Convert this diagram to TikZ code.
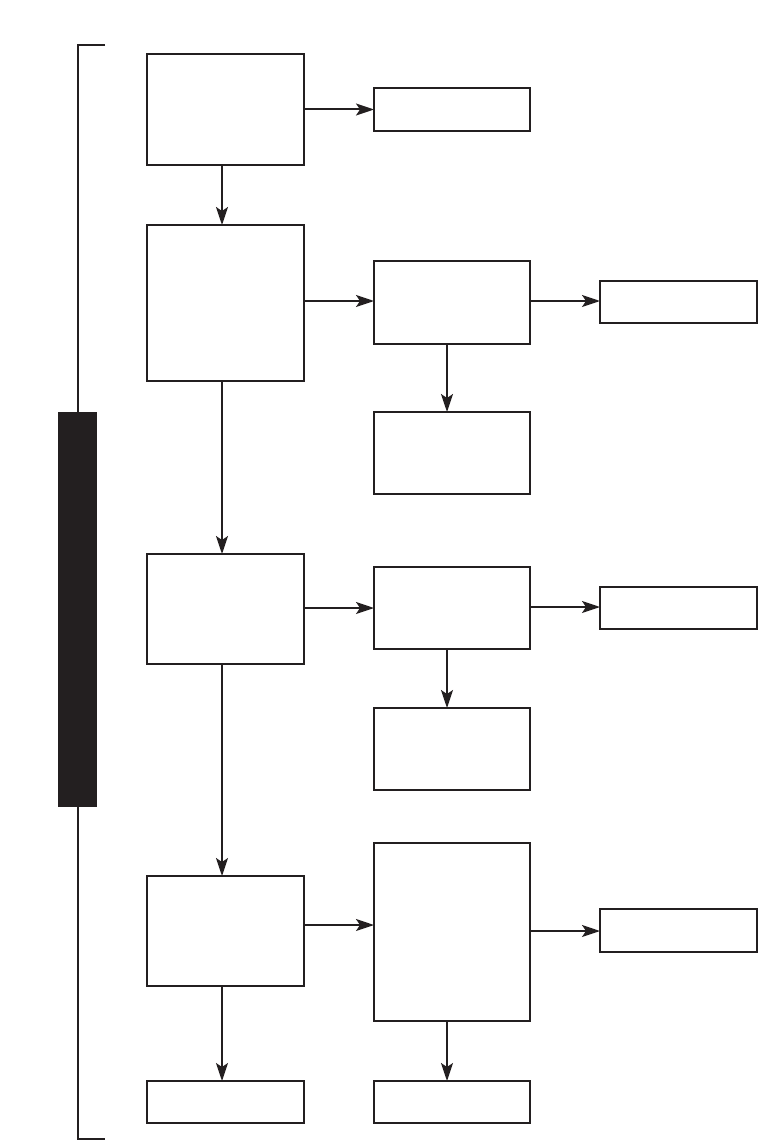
\documentclass[tikz,border=0pt]{standalone}
\usetikzlibrary{arrows.meta}
\definecolor{ink}{HTML}{231F20}
\begin{document}
\begin{tikzpicture}[x=1pt,y=-1pt,
  box/.style={draw=ink,line width=2pt,anchor=north west,inner sep=0pt,outer sep=0pt},
  arr/.style={draw=ink,line width=2pt,-{Stealth[length=18pt,width=12pt,inset=4pt]}},
  line/.style={draw=ink,line width=2pt}]
\useasboundingbox (0,0) rectangle (758,1142);
\newcommand{\bx}[5]{\node[box,minimum width=#4-#2,minimum height=#5-#3] (#1) at (#2,#3) {};}
\bx{A}{147}{54}{304}{165}
\bx{B}{374}{88}{530}{131}
\bx{C}{147}{225}{304}{381}
\bx{D}{374}{261}{530}{344}
\bx{E}{600}{281}{757}{323}
\bx{F}{374}{412}{530}{494}
\bx{G}{147}{554}{304}{664}
\bx{H}{374}{567}{530}{649}
\bx{I}{600}{587}{757}{629}
\bx{J}{374}{708}{530}{790}
\bx{K}{147}{876}{304}{986}
\bx{L}{374}{843}{530}{1021}
\bx{M}{600}{909}{757}{952}
\bx{N}{147}{1081}{304}{1123}
\bx{O}{374}{1081}{530}{1123}
\coordinate (xl) at (222,0);
\coordinate (xr) at (447,0);
% bracket
\coordinate (bt) at (105,45);
\coordinate (bb) at (105,1139);
\draw[line] (bt) -- (78,45) -- (78,1139) -- (bb);
\node[fill=ink,draw=none,anchor=north west,minimum width=39,minimum height=395,inner sep=0pt] (bar) at (58,412) {};
% arrows
\draw[arr] (A.east) -- (B.west |- A.east);
\draw[arr] (A.south -| xl) -- (C.north -| xl);
\draw[arr] (C.east |- 0,301) -- (D.west |- 0,301);
\draw[arr] (D.east |- 0,301) -- (E.west |- 0,301);
\draw[arr] (D.south -| xr) -- (F.north -| xr);
\draw[arr] (C.south -| xl) -- (G.north -| xl);
\draw[arr] (G.east |- 0,608) -- (H.west |- 0,608);
\draw[arr] (H.east |- 0,607) -- (I.west |- 0,607);
\draw[arr] (H.south -| xr) -- (J.north -| xr);
\draw[arr] (G.south -| xl) -- (K.north -| xl);
\draw[arr] (K.east |- 0,925) -- (L.west |- 0,925);
\draw[arr] (L.east |- 0,931) -- (M.west |- 0,931);
\draw[arr] (K.south -| xl) -- (N.north -| xl);
\draw[arr] (L.south -| xr) -- (O.north -| xr);
\end{tikzpicture}
\end{document}
